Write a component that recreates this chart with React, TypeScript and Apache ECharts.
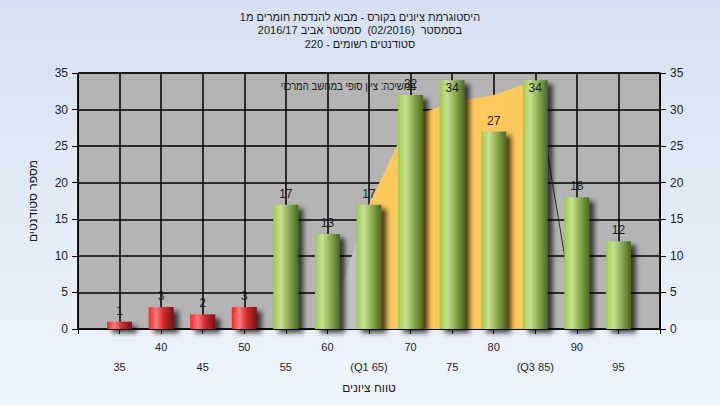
import React, { useEffect, useRef } from "react";
import * as echarts from "echarts";

const titleLines = [
  "היסטוגרמת ציונים בקורס - מבוא להנדסת חומרים מ1",
  "בסמסטר  (02/2016)  סמסטר אביב 2016/17",
  "סטודנטים רשומים - 220",
];
const legendText = "במשיכה: ציון סופי במחשב המרכזי";
const yAxisTitle = "מספר סטודנטים";
const xAxisTitle = "טווח ציונים";

// axis categories (edges 30 and 100 are empty slots)
const gradeBins = [30, 35, 40, 45, 50, 55, 60, 65, 70, 75, 80, 85, 90, 95, 100];
const tickLabels = ["", "35", "40", "45", "50", "55", "60", "(Q1 65)", "70", "75", "80", "(Q3 85)", "90", "95", ""];
const studentCounts = [null, 1, 3, 2, 3, 17, 13, 17, 32, 34, 27, 34, 18, 12, null];
// shaded inter-quartile band (Q1..Q3)
const quartileBand = [null, null, null, null, null, null, null, 17, 29, 31, 32, 34, null, null, null];
const lowerTail = [null, null, null, null, null, null, 0, 17, null, null, null, null, null, null, null];
const upperTail = [null, null, null, null, null, null, null, null, null, null, null, 34, 0, null, null];
const passGrade = 55;
const yMax = 35;
const yStep = 5;

const FONT = "'Liberation Sans', 'DejaVu Sans', Arial, sans-serif";

export default function App() {
  const ref = useRef<HTMLDivElement>(null);
  useEffect(() => {
    const chart = echarts.init(ref.current!, null, { renderer: "svg" });
    const green = new echarts.graphic.LinearGradient(0, 0, 1, 0, [
      { offset: 0, color: "#9CCB4A" },
      { offset: 0.3, color: "#C7E192" },
      { offset: 0.6, color: "#8DB152" },
      { offset: 1, color: "#4A6821" },
    ]);
    const red = new echarts.graphic.LinearGradient(0, 0, 1, 0, [
      { offset: 0, color: "#F42424" },
      { offset: 0.3, color: "#FF7C7C" },
      { offset: 0.6, color: "#D02A2A" },
      { offset: 1, color: "#761212" },
    ]);
    const barData = studentCounts.map((v, i) => {
      if (v == null) return null;
      const item: any = {
        value: v,
        itemStyle: { color: gradeBins[i] < passGrade ? red : green },
      };
      if (v > yMax - 2) item.label = { position: "insideTop", distance: 2 };
      return item;
    });
    const axisLabelStyle = { color: "#1e1e1e", fontFamily: FONT, fontSize: 12 };
    chart.setOption({
      animation: false,
      backgroundColor: "transparent",
      textStyle: { fontFamily: FONT },
      title: {
        text: titleLines.join("\n"),
        left: "center",
        top: 5,
        textStyle: { fontFamily: FONT, fontSize: 11, fontWeight: "normal", color: "#1a1a1a", lineHeight: 13.5 },
      },
      grid: {
        left: 78,
        right: 60,
        top: 73,
        bottom: 76,
        show: true,
        backgroundColor: "#B4B4B4",
        borderColor: "#000",
        borderWidth: 1,
      },
      graphic: [
        {
          type: "text",
          x: 416,
          y: 86,
          z: 100,
          scaleX: 0.8,
          style: {
            text: legendText,
            align: "right",
            verticalAlign: "middle",
            fill: "#1a1a1a",
            font: `12px ${FONT}`,
          },
        },
      ],
      xAxis: {
        type: "category",
        data: gradeBins.map(String),
        boundaryGap: false,
        name: xAxisTitle,
        nameLocation: "middle",
        nameGap: 53,
        nameTextStyle: { color: "#1a1a1a", fontFamily: FONT, fontSize: 12 },
        axisLine: { lineStyle: { color: "#000", width: 1 } },
        axisTick: { show: true, interval: 0, length: 5, lineStyle: { color: "#000" } },
        axisLabel: {
          interval: 0,
          margin: 8,
          color: "#1e1e1e",
          fontFamily: FONT,
          fontSize: 11,
          lineHeight: 20,
          formatter: (_v: string, idx: number) => {
            const t = tickLabels[idx];
            return idx % 2 === 0 ? `${t}\n ` : ` \n${t}`;
          },
        },
        splitLine: { show: true, interval: 0, lineStyle: { color: "#000", width: 1.5 } },
      },
      yAxis: [
        {
          type: "value",
          min: 0,
          max: yMax,
          interval: yStep,
          name: yAxisTitle,
          nameLocation: "middle",
          nameGap: 39,
          nameTextStyle: { color: "#1a1a1a", fontFamily: FONT, fontSize: 12 },
          axisLine: { show: true, lineStyle: { color: "#000" } },
          axisTick: { show: true, length: 6, lineStyle: { color: "#000" } },
          axisLabel: { ...axisLabelStyle, margin: 10 },
          splitLine: { show: true, lineStyle: { color: "#000", width: 1.5 } },
        },
        {
          type: "value",
          min: 0,
          max: yMax,
          interval: yStep,
          position: "right",
          axisLine: { show: true, lineStyle: { color: "#000" } },
          axisTick: { show: true, length: 6, lineStyle: { color: "#000" } },
          axisLabel: { ...axisLabelStyle, margin: 10 },
          splitLine: { show: false },
        },
      ],
      series: [
        {
          type: "line",
          data: quartileBand,
          symbol: "none",
          silent: true,
          z: 1,
          lineStyle: { opacity: 0 },
          areaStyle: { color: "#FFC85A", opacity: 1 },
        },
        {
          type: "line",
          data: lowerTail,
          symbol: "none",
          silent: true,
          z: 1,
          lineStyle: { opacity: 0 },
          areaStyle: { color: "#C3C3C3", opacity: 1 },
        },
        {
          type: "line",
          data: upperTail,
          symbol: "none",
          silent: true,
          z: 1,
          lineStyle: { color: "#2a2a2a", width: 1 },
        },
        {
          type: "bar",
          data: barData,
          barWidth: 25,
          z: 3,
          itemStyle: {
            shadowBlur: 5,
            shadowOffsetX: 5,
            shadowOffsetY: 4,
            shadowColor: "rgba(0,0,0,0.7)",
          },
          label: {
            show: true,
            position: "top",
            distance: 5,
            color: "#1a1a1a",
            fontFamily: FONT,
            fontSize: 12,
          },
        },
      ],
    });
    return () => chart.dispose();
  }, []);
  return (
    <div
      style={{
        position: "fixed",
        left: 0,
        top: 0,
        width: 720,
        height: 405,
        background: "linear-gradient(180deg, #D5E1F2 0%, #EEF4FC 100%)",
      }}
    >
      <div ref={ref} style={{ width: 720, height: 405 }} />
    </div>
  );
}
